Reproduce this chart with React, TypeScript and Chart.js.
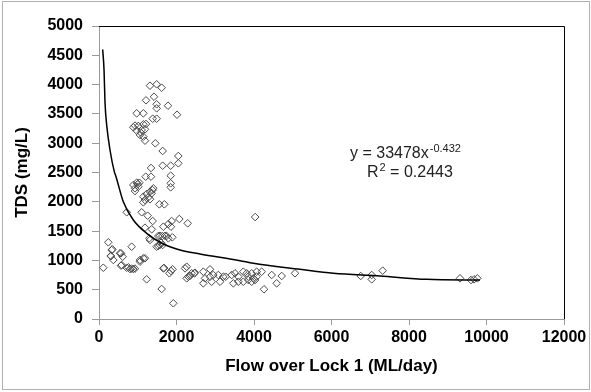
import React, { useEffect, useRef } from "react";
import { Chart, registerables } from "chart.js";
Chart.register(...registerables);

// Scatter observations: flow over Lock 1 (ML/day) and TDS (mg/L)
const flowValues: number[] = [
  1316, 1488, 1617, 1419, 1213, 1488, 1488, 1781, 973, 1144, 1385, 1488, 2013, 886, 1015, 1144, 1213, 973, 1101, 1187,
  1058, 1144, 1187, 1453, 1643, 2047, 2047, 1643, 1850, 1342, 1850, 1205, 1342, 930, 1080,
  1850, 1850, 886, 973, 1041, 929, 1015, 929, 1402, 1316, 1360, 1230, 1144, 1273, 1187, 1316, 1144, 1557, 1686, 1000, 1380,
  715, 1101, 1256, 1385, 1875, 2073, 2289, 1789, 1187, 1360, 1660, 1858, 1574, 1703, 1789, 1298, 1892, 1316, 1530, 1634,
  1746, 1574, 1530, 1643, 1488, 1600, 4030,
  240, 344, 327, 843, 542, 568, 301, 611, 310, 370, 1058, 1144, 1187, 1058, 111, 568, 585, 715, 800, 886, 760, 840, 929,
  1230, 1660, 1680, 1815, 1900, 1858, 1617, 1918, 2220, 2263, 2348, 2460, 2692, 2865, 2692,
  2263, 2391, 2477, 2305, 2735, 2865, 2950, 3079, 3208, 3270, 2908, 3123,
  3424, 3510, 3595, 3724, 3811, 3853, 3940, 4069, 4198, 3467, 3595, 3724, 3853, 3940, 4026, 3982, 4069,
  4457, 4585, 4715, 4258, 5058, 6753, 7037, 7037, 7320, 9316, 9600, 9677, 9763,
];
const tdsValues: number[] = [
  3981, 4005, 3947, 3793, 3732, 3664, 3595, 3640, 3510, 3510, 3418, 3418, 3486, 3271, 3294, 3322, 3328, 3214, 3225, 3237,
  3140, 3111, 3043, 2998, 2867, 2782, 2657, 2616, 2616, 2577, 2446, 2429, 2429, 3300, 3180,
  2315, 2247, 2287, 2326, 2326, 2230, 2258, 2184, 2230, 2172, 2145, 2133, 2087, 2077, 2031, 2043, 1991, 1957, 1957, 2300, 2200,
  1821, 1821, 1763, 1672, 1672, 1706, 1633, 1621, 1558, 1531, 1575, 1575, 1421, 1421, 1377, 1377, 1394, 1348, 1416, 1416,
  1416, 1263, 1246, 1263, 1234, 1300, 1740,
  1309, 1189, 1177, 1234, 1121, 1121, 1075, 1063, 1075, 1007, 1007, 1036, 1036, 978, 875, 910, 921, 875, 853, 853, 880, 860, 860,
  677, 864, 870, 780, 848, 819, 512, 268, 864, 694, 734, 780, 807, 848, 609,
  892, 780, 790, 722, 694, 722, 751, 751, 722, 722, 636, 636,
  751, 780, 722, 807, 780, 722, 780, 807, 807, 609, 636, 636, 665, 636, 665, 694, 722,
  751, 609, 734, 507, 780, 734, 751, 677, 825, 694, 665, 677, 694,
];

// Power trendline
const trendFlow: number[] = [95, 130, 155, 200, 284, 395, 439, 627, 886, 1230, 1660, 2090, 2606, 3639, 3982, 5187, 6047, 7252, 8456, 9832];
const trendTds: number[] = [4600, 4250, 3700, 3300, 2884, 2514, 2429, 2002, 1689, 1462, 1280, 1177, 1110, 995, 950, 848, 780, 734, 677, 665];

const xTickValues: number[] = [0, 2000, 4000, 6000, 8000, 10000, 12000];
const yTickValues: number[] = [0, 500, 1000, 1500, 2000, 2500, 3000, 3500, 4000, 4500, 5000];

const equationMain = "y = 33478x";
const equationExp = "-0.432";
const rSquaredLabel = "R";
const rSquaredExp = "2";
const rSquaredValue = " = 0.2443";

const FONT = "'Liberation Sans', Arial, sans-serif";

const framePlugin = {
  id: "frame",
  afterDraw(chart: any) {
    const { ctx, chartArea } = chart;
    ctx.save();
    ctx.strokeStyle = "#000";
    ctx.lineWidth = 1;
    ctx.beginPath();
    ctx.moveTo(chartArea.left, chartArea.top + 0.5);
    ctx.lineTo(chartArea.right + 0.5, chartArea.top + 0.5);
    ctx.lineTo(chartArea.right + 0.5, chartArea.bottom);
    ctx.stroke();
    ctx.strokeStyle = "#b0b0b0";
    ctx.strokeRect(2.5, 1.5, chart.width - 4, chart.height - 4);

    ctx.fillStyle = "#222";
    ctx.textBaseline = "alphabetic";
    ctx.textAlign = "left";
    ctx.font = `16px ${FONT}`;
    const x1 = 350;
    const y1 = 158;
    ctx.fillText(equationMain, x1, y1);
    const w1 = ctx.measureText(equationMain).width;
    ctx.font = `11px ${FONT}`;
    ctx.fillText(equationExp, x1 + w1 + 1, y1 - 6);
    ctx.font = `16px ${FONT}`;
    const x2 = 367;
    const y2 = 177;
    ctx.fillText(rSquaredLabel, x2, y2);
    const wr = ctx.measureText(rSquaredLabel).width;
    ctx.font = `11px ${FONT}`;
    ctx.fillText(rSquaredExp, x2 + wr + 1, y2 - 6);
    const w2 = ctx.measureText(rSquaredExp).width;
    ctx.font = `16px ${FONT}`;
    ctx.fillText(rSquaredValue, x2 + wr + w2 + 1, y2);
    ctx.restore();
  },
};

export default function App() {
  const canvasRef = useRef<HTMLCanvasElement | null>(null);

  useEffect(() => {
    const canvas = canvasRef.current;
    if (!canvas) return;
    const scatter = flowValues.map((x, i) => ({ x, y: tdsValues[i] }));
    const trend = trendFlow.map((x, i) => ({ x, y: trendTds[i] }));
    const chart = new Chart(canvas, {
      type: "scatter",
      data: {
        datasets: [
          {
            type: "line",
            data: trend,
            borderColor: "#000",
            borderWidth: 1.5,
            pointRadius: 0,
            cubicInterpolationMode: "monotone",
            fill: false,
          } as any,
          {
            data: scatter,
            pointStyle: "rectRot",
            pointRadius: 3.8,
            pointBorderWidth: 1,
            pointBorderColor: "#4a4a4a",
            pointBackgroundColor: "rgba(255,255,255,0)",
          },
        ],
      },
      options: {
        animation: false,
        responsive: false,
        maintainAspectRatio: false,
        layout: { padding: { top: 26, right: 27, bottom: 0, left: 0 } },
        plugins: { legend: { display: false }, tooltip: { enabled: false } },
        scales: {
          x: {
            type: "linear",
            min: 0,
            max: 12000,
            afterFit: (s: any) => {
              s.height = 73;
            },
            afterBuildTicks: (s: any) => {
              s.ticks = xTickValues.map((v) => ({ value: v }));
            },
            ticks: {
              color: "#000",
              font: { family: FONT, size: 16, weight: "bold" },
              padding: 3,
              maxRotation: 0,
              callback: (v: any) => String(v),
            },
            grid: { drawOnChartArea: false, tickLength: 6, color: "#9a9a9a" },
            border: { color: "#9a9a9a" },
            title: {
              display: true,
              text: "Flow over Lock 1 (ML/day)",
              color: "#000",
              font: { family: FONT, size: 17, weight: "bold" },
              padding: { top: 0, bottom: 15 },
            },
          },
          y: {
            type: "linear",
            min: 0,
            max: 5000,
            afterFit: (s: any) => {
              s.width = 99;
            },
            afterBuildTicks: (s: any) => {
              s.ticks = yTickValues.map((v) => ({ value: v }));
            },
            ticks: {
              color: "#000",
              font: { family: FONT, size: 16, weight: "bold" },
              padding: 9,
              callback: (v: any) => String(v),
            },
            grid: { drawOnChartArea: false, tickLength: 7, color: "#9a9a9a" },
            border: { color: "#9a9a9a" },
            title: {
              display: true,
              text: "TDS (mg/L)",
              color: "#000",
              font: { family: FONT, size: 17, weight: "bold" },
              padding: { top: 12, bottom: 0 },
            },
          },
        },
      },
      plugins: [framePlugin],
    });
    return () => chart.destroy();
  }, []);

  return (
    <div style={{ position: "fixed", left: 0, top: 0, width: 591, height: 392, background: "#fff" }}>
      <canvas ref={canvasRef} width={591} height={392} style={{ display: "block", width: 591, height: 392 }} />
    </div>
  );
}
